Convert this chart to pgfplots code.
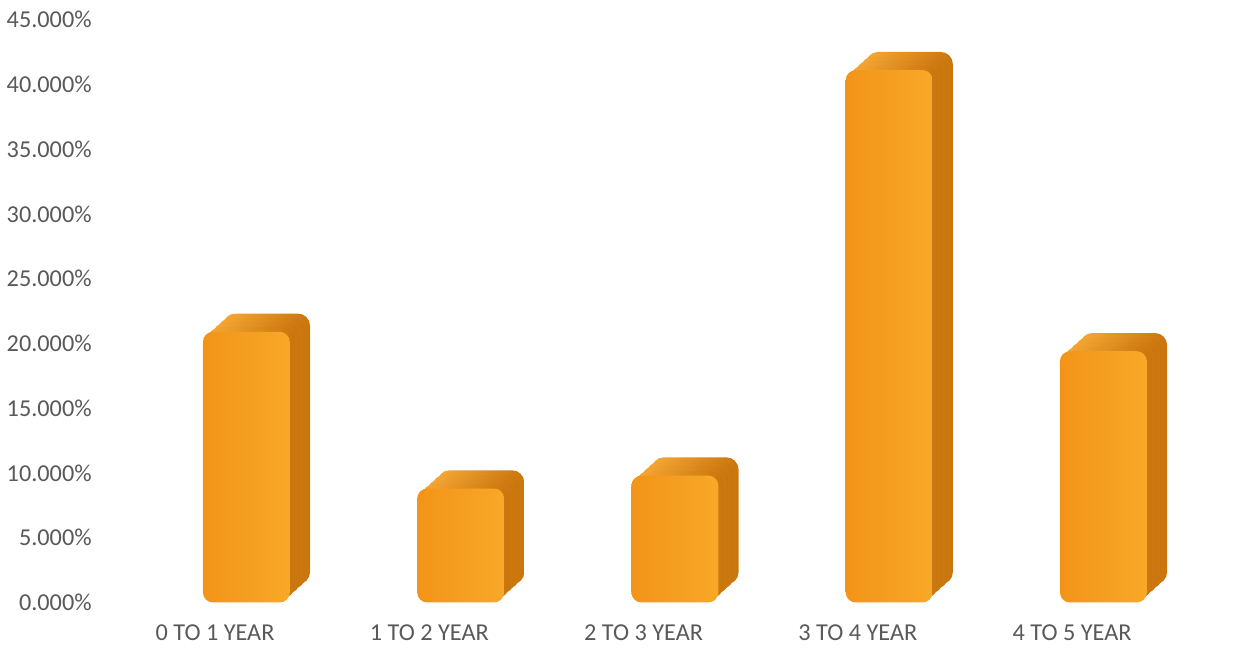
\documentclass[border=0pt]{standalone}
\usepackage{fontspec}
\setmainfont{Carlito}
\usepackage{pgfplots}
\usepackage{pgfplotstable}
\pgfplotsset{compat=1.18}

\definecolor{txt}{HTML}{595959}
\definecolor{frontL}{HTML}{F29418}
\definecolor{frontR}{HTML}{F8A828}
\definecolor{depthL}{HTML}{F6A834}
\definecolor{depthR}{HTML}{C9750D}

% share of staff by years of service
\pgfplotstableread{
x y
0 20.9
1 8.8
2 9.8
3 41.1
4 19.4
}\shares

\begin{document}
\begin{tikzpicture}
\begin{axis}[
  scale only axis, width=564pt, height=298pt,
  xmin=-0.5, xmax=4.82, ymin=0, ymax=46.5,
  xtick={0,1,2,3,4},
  xticklabels={0 TO 1 YEAR,1 TO 2 YEAR,2 TO 3 YEAR,3 TO 4 YEAR,4 TO 5 YEAR},
  ytick={0,5,...,45},
  yticklabel={\pgfmathprintnumber[fixed,fixed zerofill,precision=3]{\tick}\%},
  /pgf/number format/assume math mode=true,
  ticklabel style={font=\fontsize{12}{14}\selectfont, text=txt},
  xticklabel style={yshift=-7.5pt},
  yticklabel style={xshift=-4.5pt},
  axis line style={draw=none}, major tick length=0pt,
  ybar, bar width=43pt,
  depth/.style={draw=none, left color=depthL, right color=depthR, rounded corners=6pt},
]
% one bar at a time, so that the shading is per bar
\pgfplotsinvokeforeach{0,...,4}{
  \addplot[depth, bar shift=25.5pt, yshift=9pt] table[restrict expr to domain={\coordindex}{#1:#1}] {\shares};
  \addplot[depth, bar shift=23pt, yshift=6.75pt] table[restrict expr to domain={\coordindex}{#1:#1}] {\shares};
  \addplot[depth, bar shift=20.5pt, yshift=4.5pt] table[restrict expr to domain={\coordindex}{#1:#1}] {\shares};
  \addplot[depth, bar shift=18pt, yshift=2.25pt] table[restrict expr to domain={\coordindex}{#1:#1}] {\shares};
  \addplot[draw=none, bar shift=15.5pt, left color=frontL, right color=frontR, rounded corners=5pt] table[restrict expr to domain={\coordindex}{#1:#1}] {\shares};
}
\end{axis}
\end{tikzpicture}
\end{document}
